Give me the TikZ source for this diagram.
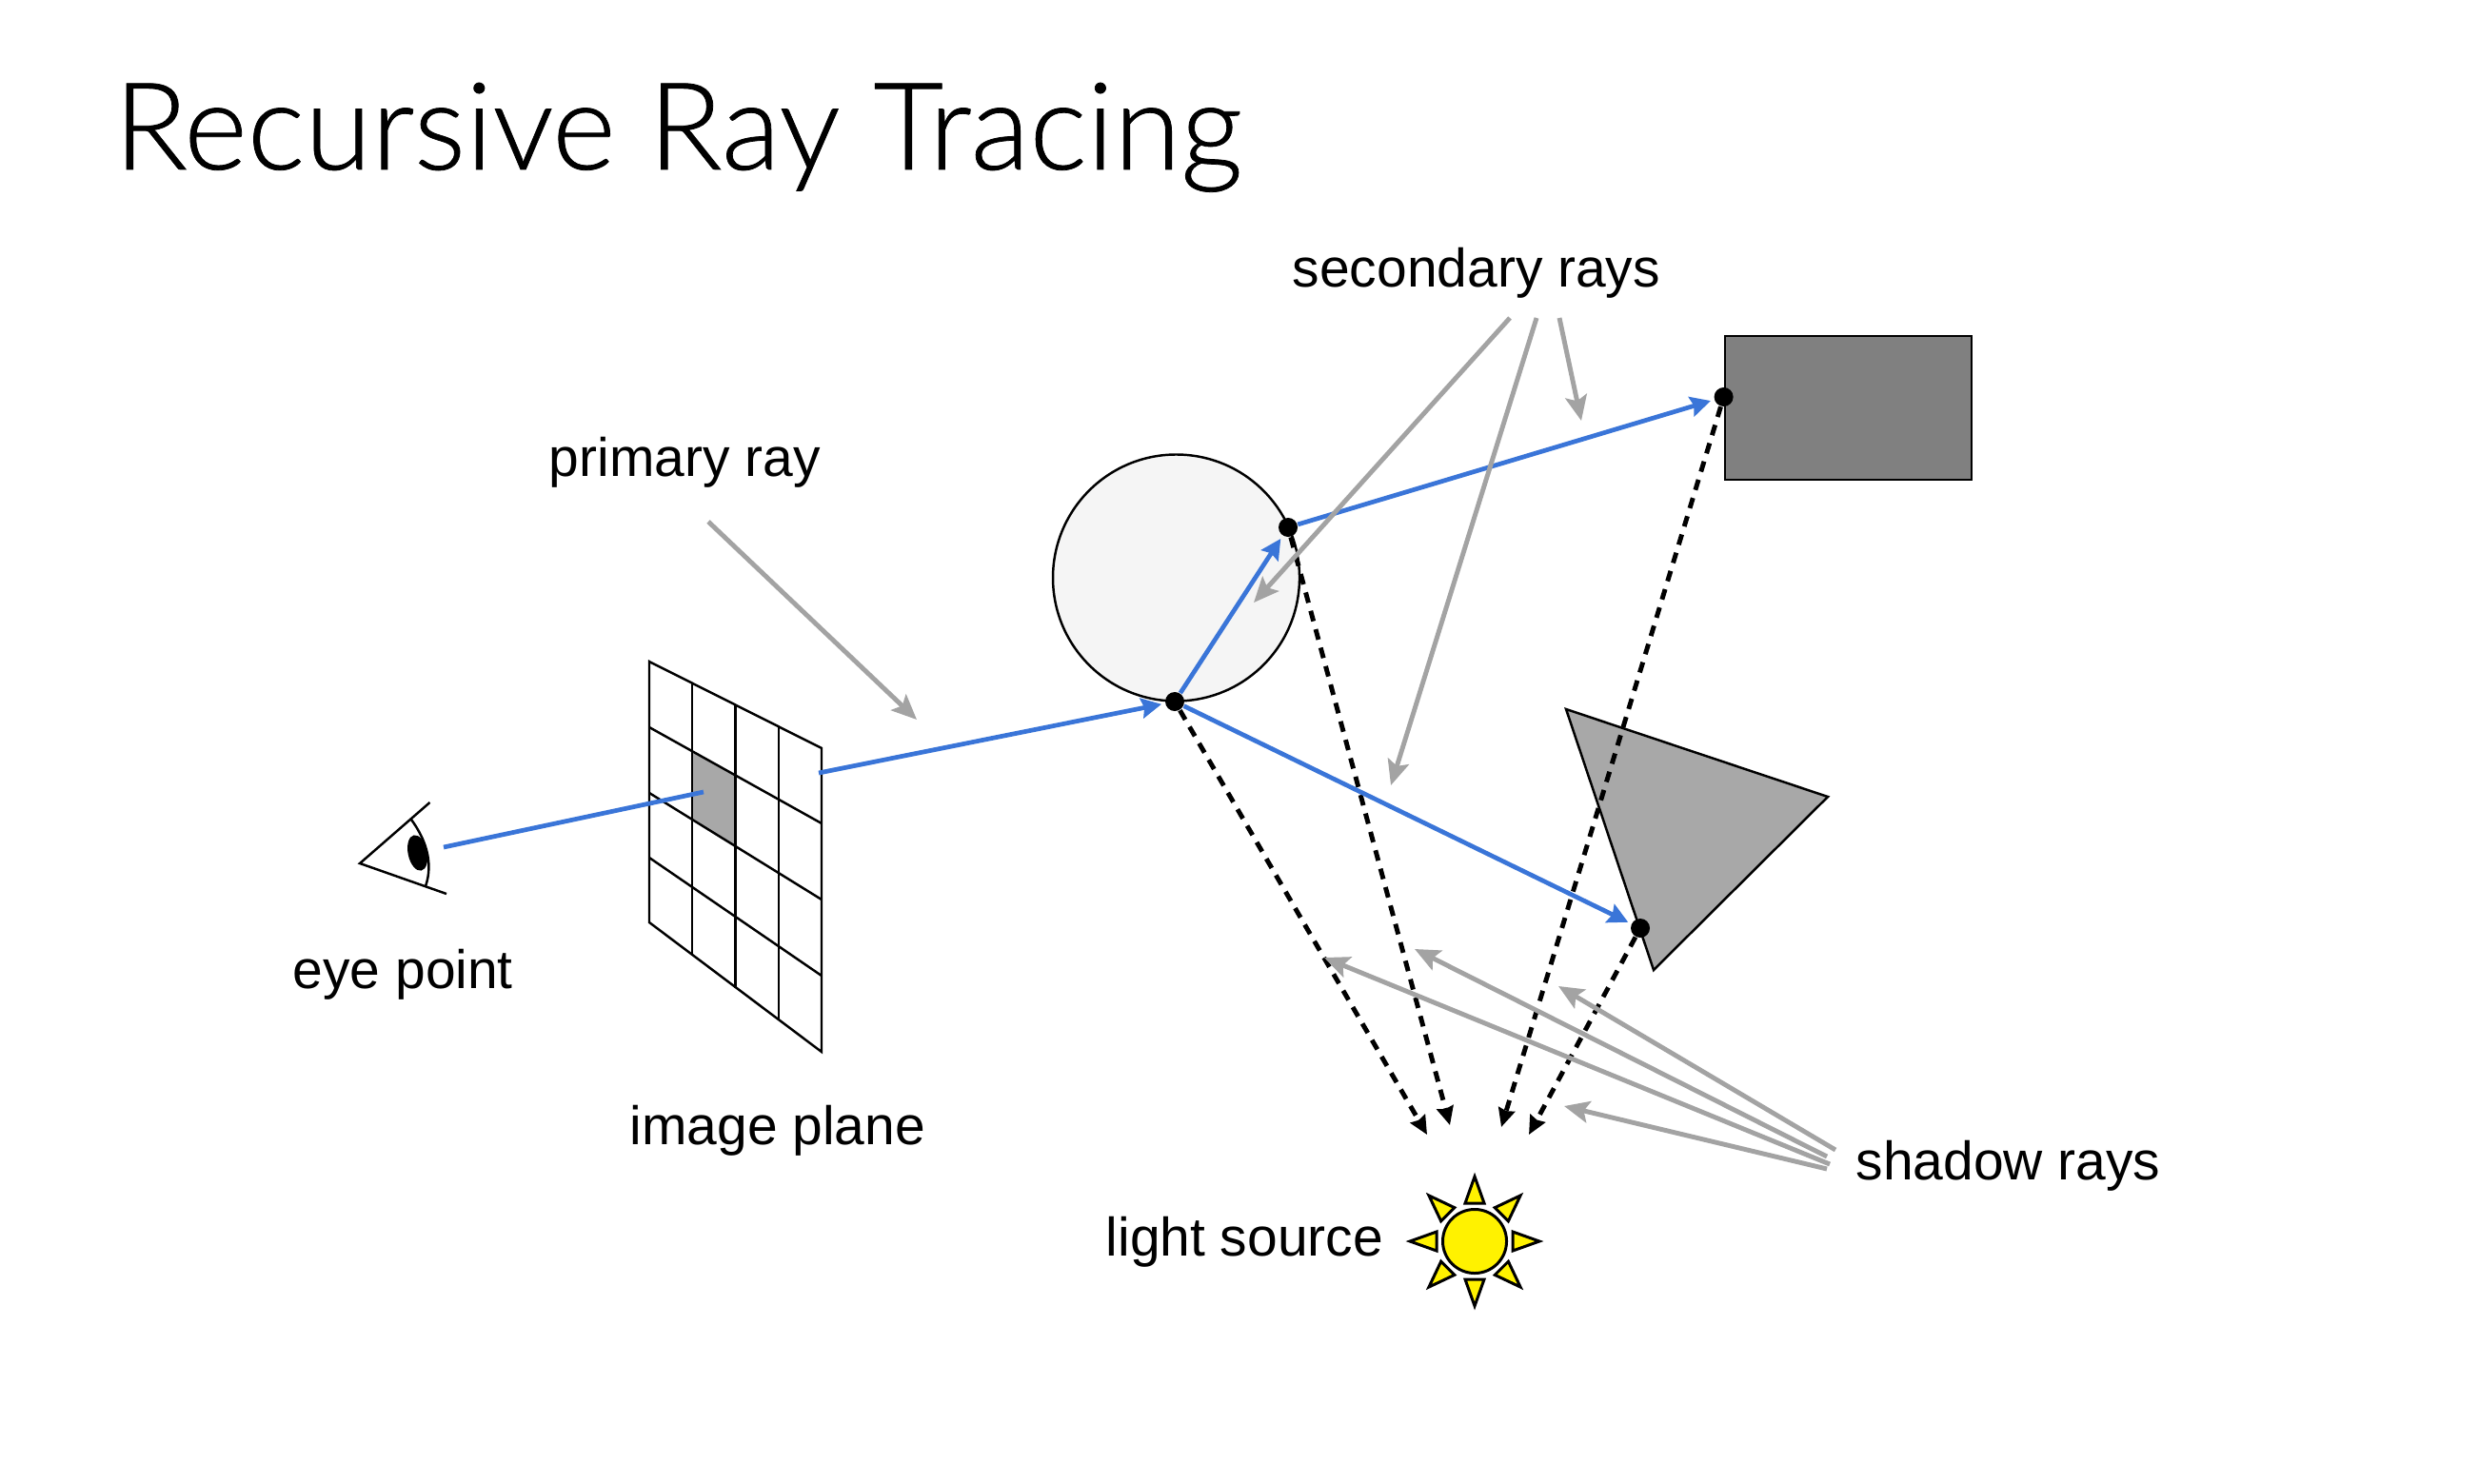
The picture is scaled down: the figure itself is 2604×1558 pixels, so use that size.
\documentclass[tikz,border=0pt]{standalone}
\usepackage{fontspec}
\setmainfont{Liberation Sans}
\newfontfamily\titlefont[FakeBold=0.6]{Lato Light}
\usetikzlibrary{arrows.meta}
\definecolor{rayblue}{HTML}{3A75D8}
\definecolor{notegray}{HTML}{A3A3A3}
\tikzset{
  px/.style={x=0.01cm,y=-0.01cm},
  outline/.style={draw=black,line width=0.7pt,line join=miter},
  ray/.style={draw=rayblue,line width=1.35pt,shorten >=1pt,-{Stealth[length=6pt,width=6pt,inset=0.8pt]}},
  rayplain/.style={draw=rayblue,line width=1.35pt},
  note/.style={draw=notegray,line width=1.4pt,-{Stealth[length=7.5pt,width=6.5pt,inset=1.5pt]}},
  shadowray/.style={draw=black,line width=1.4pt,dash pattern=on 3.2pt off 2.5pt,-{Stealth[length=5.5pt,width=5pt,inset=0.5pt]}},
  hit/.style={circle,fill=black,inner sep=0pt,minimum size=0.2cm},
  label/.style={font=\fontsize{16.2pt}{19pt}\selectfont,anchor=base west,inner sep=0pt},
}
\begin{document}
\begin{tikzpicture}[px]
\useasboundingbox (0,0) rectangle (2604,1558);
\fill[white] (0,0) rectangle (2604,1558);
\node[anchor=base west,inner sep=0pt,font=\titlefont\fontsize{36.3pt}{42pt}\selectfont] (title) at (119,178) {Recursive Ray Tracing};
\node[label] (secondary) at (1357,302) {secondary rays};
\node[label] (primary) at (576,500) {primary ray};
\node[label] (eye) at (307,1038) {eye point};
\node[label] (plane) at (661,1202) {image plane};
\node[label] (lightlabel) at (1161,1319) {light source};
\node[label] (shadow) at (1949,1239) {shadow rays};
% image plane
\fill[fill=white] (682,695) -- (863,786) -- (863,1105) -- (682,969) -- cycle;
\fill[fill=black!34] (727.5,790) -- (772,815) -- (772,888) -- (727.5,860) -- cycle;
\draw[outline] (682,695) -- (863,786) -- (863,1105) -- (682,969) -- cycle;
\draw[outline] (727,717) -- (727,1003) (772.5,740) -- (772.5,1038) (818,763) -- (818,1072);
\draw[outline] (682,764) -- (863,865) (682,833) -- (863,945) (682,901) -- (863,1025);
% eye
\draw[outline] (451.5,843) -- (378,907) -- (469,939);
\draw[outline] (432,861) .. controls (446,880) and (456,905) .. (447,931);
\fill[black,rotate around={12:(438.6,896)}] (438.6,896) ellipse (10 and 19);
% objects
\draw[outline,fill=black!4] (1235.5,607) circle (129.5);
\draw[outline,fill=black!50] (1812,353) rectangle (2071,504);
\draw[outline,fill=black!34] (1645,745) -- (1920,837) -- (1737,1019) -- cycle;
% sun
\node[circle,draw=black,fill=yellow,line width=0.85pt,minimum size=0.67cm,inner sep=0pt] (sun) at (1549,1304) {};
\foreach \a in {0,45,...,315}{
  \draw[black,fill=yellow,line width=0.85pt,line join=miter,shift={(1549,1304)},rotate=\a]
    (68,0) -- (40,-10) -- (40,10) -- cycle;
}
% named points
\coordinate (eyeStart) at (466,890);
\coordinate (pixelEnd) at (739,832);
\coordinate (planeExit) at (860,812);
\node[hit] (h1) at (1234,737) {};
\node[hit] (h2) at (1353,554) {};
\node[hit] (h3) at (1810.6,417) {};
\node[hit] (h4) at (1723,975) {};
\coordinate (s1) at (1499,1192);
\coordinate (s2) at (1523,1182);
\coordinate (s3) at (1577,1184);
\coordinate (s4) at (1606,1192);
% dashed
\draw[shadowray] (h1) -- (s1);
\draw[shadowray] (h2) -- (s2);
\draw[shadowray] (h3) -- (s3);
\draw[shadowray] (h4) -- (s4);
% blue
\draw[rayplain] (eyeStart) -- (pixelEnd);
\draw[ray] (planeExit) -- (h1);
\draw[ray] (h1) -- (h2);
\draw[ray] (h2) -- (h3);
\draw[ray] (h1) -- (h4);
% gray
\coordinate (n1) at (744,548); \coordinate (n1e) at (963,756);
\coordinate (n2) at (1586,334); \coordinate (n2e) at (1317,633);
\coordinate (n3) at (1614,334); \coordinate (n3e) at (1461,825);
\coordinate (n4) at (1638,334); \coordinate (n4e) at (1661,442);
\draw[note] (n1) -- (n1e);
\draw[note] (n2) -- (n2e);
\draw[note] (n3) -- (n3e);
\draw[note] (n4) -- (n4e);
\coordinate (m1) at (1922,1223); \coordinate (m1e) at (1391,1006);
\coordinate (m2) at (1919,1215); \coordinate (m2e) at (1486,997);
\coordinate (m3) at (1928,1208); \coordinate (m3e) at (1637,1036);
\coordinate (m4) at (1919,1228); \coordinate (m4e) at (1643,1162);
\draw[note] (m1) -- (m1e);
\draw[note] (m2) -- (m2e);
\draw[note] (m3) -- (m3e);
\draw[note] (m4) -- (m4e);
\end{tikzpicture}
\end{document}
